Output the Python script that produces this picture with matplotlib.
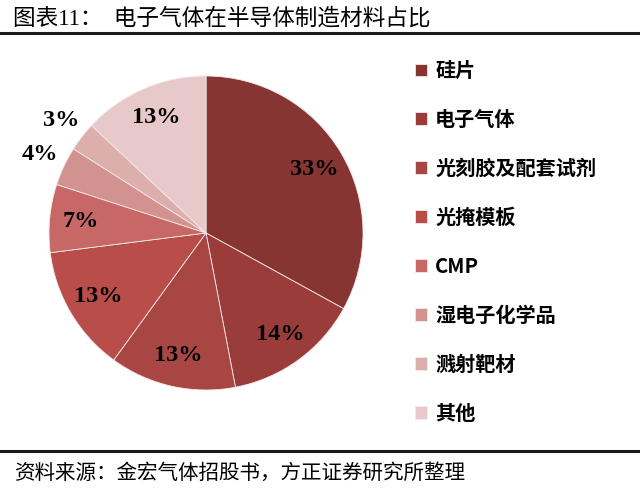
import numpy as np
import matplotlib
matplotlib.use("Agg")
import matplotlib.pyplot as plt

plt.rcParams['font.family'] = ['Noto Sans CJK SC', 'DejaVu Sans']

# data
categories = ['硅片', '电子气体', '光刻胶及配套试剂', '光掩模板', 'CMP',
              '湿电子化学品', '溅射靶材', '其他']
shares = [33, 14, 13, 13, 7, 4, 3, 13]
colors = ['#873533', '#993c3a', '#a84644', '#b84d4a', '#c76866',
          '#d29290', '#dcaeac', '#e8c9c9']
title_text = '图表11：  电子气体在半导体制造材料占比'
source_text = '资料来源：金宏气体招股书，方正证券研究所整理'

W, H = 640, 494
fig = plt.figure(figsize=(W / 100, H / 100), dpi=100)

# pie axes: center (206, 233) px from top-left, radius 157 px
r_px = 157
cx, cy = 206, H - 233
half = 1.25 * r_px
ax = fig.add_axes([(cx - half) / W, (cy - half) / H, 2 * half / W, 2 * half / H])

wedges, texts, autotexts = ax.pie(
    shares, colors=colors, startangle=90, counterclock=False,
    autopct='%d%%', pctdistance=0.8,
    wedgeprops=dict(edgecolor='#f4e8e8', linewidth=0.6),
    textprops=dict(family='Liberation Serif', fontweight='bold',
                   fontsize=17.5, color='black'))
ax.set_xlim(-1.25, 1.25)
ax.set_ylim(-1.25, 1.25)
ax.set_aspect('equal')

# small slices get their labels outside the pie
for w, t, v in zip(wedges, autotexts, shares):
    if v <= 4:
        ang = np.deg2rad((w.theta1 + w.theta2) / 2)
        t.set_position((1.17 * np.cos(ang), 1.17 * np.sin(ang)))

leg = fig.legend(wedges, categories, loc='upper left',
                 bbox_to_anchor=(415 / W, 1 - 60 / H),
                 frameon=False, borderpad=0, borderaxespad=0,
                 handlelength=0.6, handleheight=0.6, handletextpad=0.4,
                 labelspacing=1.39,
                 prop=dict(family='Noto Sans CJK SC', weight='bold', size=14.5))

# title and source with rules
fig.text(13 / W, 1 - 19 / H, title_text, fontsize=16.3,
         family=['Liberation Serif', 'Noto Sans CJK SC'],
         ha='left', va='center')
fig.add_artist(plt.Line2D([0, 1], [1 - 33 / H, 1 - 33 / H], color='#1a1a1a',
                          linewidth=2.2, transform=fig.transFigure))
fig.add_artist(plt.Line2D([0, 1], [1 - 451 / H, 1 - 451 / H], color='#1a1a1a',
                          linewidth=2.2, transform=fig.transFigure))
fig.text(15 / W, 1 - 473 / H, source_text, fontsize=14.8,
         ha='left', va='center')

fig.savefig('out.png', dpi=100)
